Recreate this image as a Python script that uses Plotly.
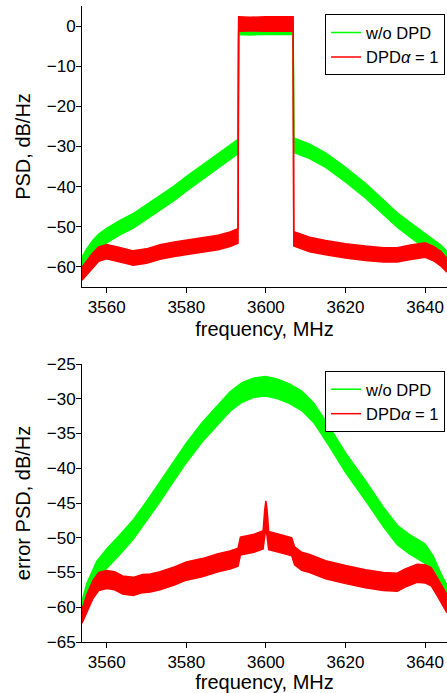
"""PSD and error PSD with and without DPD, drawn as noise envelopes."""

import plotly.graph_objects as go

GREEN = "#00ff00"
RED = "#ff0000"

# top panel: PSD, lower and upper edges of each noisy trace (dB/Hz)
freq_top = [3553.8, 3555, 3556.5, 3558, 3560, 3563, 3566.7, 3570, 3573.4, 3577, 3580,
            3584, 3588, 3591, 3593.0, 3593.15, 3596, 3600, 3604, 3606.85, 3607.0, 3609,
            3611, 3615, 3620, 3625, 3629.5, 3633, 3636, 3640, 3642, 3644, 3645.5]
green_top_lo = [-60.6, -59.1, -57.0, -55.4, -54.0, -52.2, -50.3, -48.1, -45.8, -43.4, -41.1,
                -38.3, -35.4, -33.3, -31.8, -2.1, -2.2, -2.1, -2.2, -2.1, -31.5, -32.2,
                -33.0, -35.2, -38.8, -42.8, -47.0, -50.1, -52.4, -55.4, -56.8, -58.2, -59.0]
green_top_hi = [-57.6, -55.5, -53.4, -51.8, -50.4, -48.6, -46.7, -44.5, -42.2, -39.8, -37.5,
                -34.7, -31.8, -29.7, -28.2, 1.3, 1.2, 1.3, 1.2, 1.3, -27.9, -28.6,
                -29.4, -31.6, -35.2, -39.2, -43.4, -46.5, -48.8, -51.8, -53.2, -54.6, -56.2]
red_top_lo = [-63.3, -62.0, -60.1, -58.6, -58.0, -58.7, -59.6, -59.1, -58.1, -57.4, -56.9,
              -56.4, -55.7, -54.9, -54.1, -1.3, -1.2, -1.3, -1.2, -1.3, -54.8, -55.6,
              -56.2, -57.0, -57.8, -58.4, -58.8, -58.8, -58.2, -57.6, -58.4, -59.8, -61.3]
red_top_hi = [-60.1, -58.4, -56.5, -55.0, -54.4, -55.1, -56.0, -55.5, -54.5, -53.8, -53.3,
              -52.8, -52.1, -51.3, -50.5, 2.3, 2.2, 2.3, 2.2, 2.3, -51.2, -52.0,
              -52.6, -53.4, -54.2, -54.8, -55.2, -55.2, -54.6, -54.0, -54.8, -56.2, -57.9]

# bottom panel: error PSD
freq_err_green = [3553.8, 3555, 3557.5, 3560, 3563, 3566.7, 3570, 3573.4, 3577, 3580, 3584,
                  3588, 3591, 3594, 3597, 3600, 3603, 3606, 3609, 3612, 3616, 3620, 3625,
                  3629.5, 3633, 3636, 3640, 3642, 3644, 3645.5]
green_err_lo = [-60.9, -59.4, -56.2, -54.4, -52.6, -50.2, -47.6, -44.8, -41.7, -39.2, -36.2,
                -33.6, -31.8, -30.5, -29.8, -29.6, -30.0, -30.7, -31.7, -33.4, -36.9, -40.6,
                -44.6, -48.4, -51.0, -52.3, -53.7, -55.4, -57.6, -58.8]
green_err_hi = [-59.1, -56.6, -53.4, -51.6, -49.8, -47.4, -44.8, -42.0, -38.9, -36.4, -33.4,
                -30.8, -29.0, -27.7, -27.0, -26.8, -27.2, -27.9, -28.9, -30.6, -34.1, -37.8,
                -41.8, -45.6, -48.2, -49.5, -50.9, -52.6, -55.2, -56.8]

freq_err_red = [3553.8, 3555, 3556.5, 3558, 3560, 3562, 3564, 3566.7, 3569, 3571, 3573.4,
                3577, 3580, 3584, 3588, 3591, 3593.0, 3593.6, 3597, 3599.3, 3599.7, 3600.0,
                3600.3, 3600.7, 3604, 3606.5, 3607.2, 3609, 3611, 3615, 3620, 3625, 3629.5,
                3633, 3635, 3638, 3640, 3641.5, 3643, 3644.5, 3645.5]
red_err_lo = [-62.3, -60.8, -58.8, -57.6, -57.3, -57.5, -58.1, -58.3, -57.9, -57.8, -57.5,
              -56.8, -56.1, -55.6, -54.9, -54.5, -54.1, -52.5, -52.1, -51.6, -49.8, -48.5,
              -49.8, -51.7, -52.2, -52.6, -53.9, -54.7, -55.0, -55.9, -56.6, -57.2, -57.6,
              -57.7, -57.1, -56.4, -56.5, -56.9, -58.3, -59.8, -60.8]
red_err_hi = [-60.3, -58.2, -56.2, -55.0, -54.7, -54.9, -55.5, -55.7, -55.3, -55.2, -54.9,
              -54.2, -53.5, -53.0, -52.3, -51.9, -51.5, -49.9, -49.5, -49.0, -46.0, -44.7,
              -46.0, -49.1, -49.6, -50.0, -51.3, -52.1, -52.4, -53.3, -54.0, -54.6, -55.0,
              -55.1, -54.5, -53.8, -53.9, -54.3, -55.7, -57.2, -58.2]

freq_ticks = [3560, 3580, 3600, 3620, 3640]
series_names = ["w/o DPD", "DPD<i>α</i> = 1"]

FONT = dict(family="Liberation Sans, Arial, sans-serif", size=17, color="black")
LEGEND_FONT = dict(FONT, size=16.5)


def add_band(fig, x, lo, hi, color, name, axis, legend):
    # lower edge carries the legend entry, upper edge fills down to it
    fig.add_trace(go.Scatter(x=x, y=lo, mode="lines", line=dict(color=color, width=1.5),
                             name=name, xaxis="x" + axis, yaxis="y" + axis, legend=legend,
                             hoverinfo="skip"))
    fig.add_trace(go.Scatter(x=x, y=hi, mode="lines", line=dict(color=color, width=1.5),
                             fill="tonexty", fillcolor=color, showlegend=False,
                             xaxis="x" + axis, yaxis="y" + axis, hoverinfo="skip"))


fig = go.Figure()
add_band(fig, freq_top, green_top_lo, green_top_hi, GREEN, series_names[0], "", "legend")
add_band(fig, freq_top, red_top_lo, red_top_hi, RED, series_names[1], "", "legend")
add_band(fig, freq_err_green, green_err_lo, green_err_hi, GREEN, series_names[0], "2", "legend2")
add_band(fig, freq_err_red, red_err_lo, red_err_hi, RED, series_names[1], "2", "legend2")

axis_style = dict(showline=True, linecolor="black", linewidth=1, ticks="outside", ticklen=5,
                  tickcolor="black", showgrid=False, zeroline=False, mirror=False,
                  automargin=False)
x_style = dict(axis_style, range=[3553.8, 3645.5], tickvals=freq_ticks, ticklabelstandoff=0,
               title=dict(text="frequency, MHz", standoff=5))
y_style = dict(axis_style, ticklabelstandoff=-3)
legend_style = dict(x=0.666, xanchor="left", yanchor="top", bgcolor="white",
                    bordercolor="black", borderwidth=1, font=LEGEND_FONT, tracegroupgap=0,
                    traceorder="normal")

fig.update_layout(
    width=447,
    height=693,
    margin=dict(l=82, r=0, t=6, b=51),
    paper_bgcolor="white",
    plot_bgcolor="white",
    font=FONT,
    xaxis=dict(x_style, domain=[0, 1], anchor="y"),
    yaxis=dict(y_style, domain=[0.5582, 1], anchor="x", range=[-65, 5], tick0=0, dtick=10,
               title=dict(text="PSD, dB/Hz", standoff=10)),
    xaxis2=dict(x_style, domain=[0, 1], anchor="y2"),
    yaxis2=dict(y_style, domain=[0, 0.4371], anchor="x2", range=[-65, -25], tick0=-25, dtick=5,
                title=dict(text="error PSD, dB/Hz", standoff=10)),
    legend=dict(legend_style, y=0.987),
    legend2=dict(legend_style, y=0.4261),
    showlegend=True,
)

# drop the browser's default body margin so the figure sits at the page corner
fig.write_html("out.html", config={"displayModeBar": False},
               post_script="document.body.style.margin='0';")
